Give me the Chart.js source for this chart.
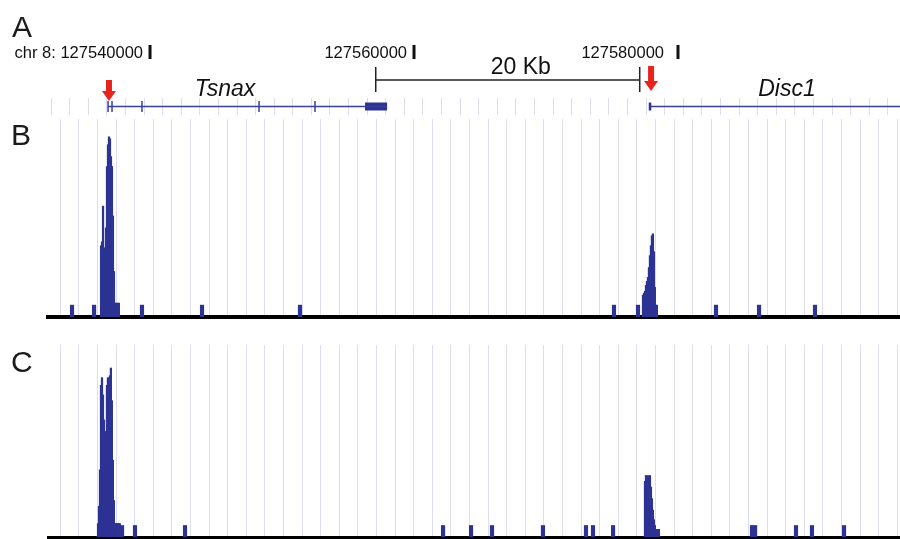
<!doctype html>
<html lang="en">
<head>
  <meta charset="utf-8" />
  <title>Tsnax / Disc1 read coverage</title>
  <script src="https://cdn.jsdelivr.net/npm/chart.js@4.4.1/dist/chart.umd.min.js"></script>
  <style>
    body { margin: 0; background: #fff; }
    .fig { position: relative; width: 900px; height: 539px; overflow: hidden; }
    .fig canvas { position: absolute; left: 0; }
    #trackA { top: 0; }
    #trackB { top: 118px; }
    #trackC { top: 340px; }
  </style>
</head>
<body>
  <div class="fig">
    <canvas id="trackA" width="900" height="118"></canvas>
    <canvas id="trackB" width="900" height="204"></canvas>
    <canvas id="trackC" width="900" height="199"></canvas>
  </div>

  <script>
    // genomic window shown in every track (bp, chr 8)
    const xMin = 127532270;
    const xMax = 127596820;

    // light guide lines of the browser
    const gridStart = 127532500;
    const gridStep = 1409;

    // ruler
    const rulerTicks = [127540000, 127560000, 127580000];
    const rulerLabels = ["chr 8: 127540000", "127560000", "127580000"];
    const scaleBar = [127557100, 127577100];
    const scaleBarLabel = "20 Kb";

    // gene models
    const geneNames = ["Tsnax", "Disc1"];
    const geneLabelPos = [127545680, 127588260];
    const tsnaxSpan = [127536820, 127557960];
    const tsnaxExons = [127536820, 127537120, 127539390, 127548260, 127552500];
    const tsnaxUtr = [127556290, 127557960];
    const disc1Span = [127577880, 127600000];
    const disc1Exons = [127577880];
    const arrowPos = [127536890, 127577960];

    // read coverage, 75 bp bins
    const binBp = 75;
    const peakStartB = [127536290, 127577350];
    const peakReadsB = [
      [36, 38, 56, 35, 30, 45, 76, 87, 91, 90, 81, 76, 51, 23, 7, 7, 7, 7, 7],
      [11, 12, 13, 16, 18, 20, 25, 31, 36, 41, 42, 33, 15, 6, 6]
    ];
    const blipPosB = [127534090, 127535760, 127539390, 127543940, 127551360,
      127575150, 127576970, 127582880, 127586140, 127590380];
    const blipReadsB = [6, 6, 6, 6, 6, 6, 6, 6, 6, 6];

    const peakStartC = [127536060, 127577500];
    const peakReadsC = [
      [7, 16, 35, 79, 83, 74, 61, 50, 55, 79, 83, 81, 84, 88, 71, 40, 19, 7, 7, 7, 7, 7, 7],
      [29, 32, 32, 25, 32, 32, 26, 20, 14, 9, 6, 4, 4, 4, 4]
    ];
    const blipPosC = [127537880, 127538860, 127542650, 127562200, 127564320,
      127565910, 127569770, 127573030, 127573560, 127575080, 127585610,
      127585840, 127588940, 127590150, 127592580];
    const blipReadsC = [6, 6, 6, 6, 6, 6, 6, 6, 6, 6, 6, 6, 6, 6, 6];

    const navy = "#2c3393";
    const geneBlue = "#3a3f9c";
    const gridColor = "#dcdcf2";
    const sans = '"Liberation Sans", Arial, sans-serif';

    Chart.defaults.font.family = sans;

    // shared x axis: hidden ticks, only the lavender guide lines
    function xAxis(borderWidth) {
      return {
        type: "linear",
        min: xMin,
        max: xMax,
        offset: false,
        afterBuildTicks: (scale) => {
          const t = [];
          for (let v = gridStart; v < xMax; v += gridStep) t.push({ value: v });
          scale.ticks = t;
        },
        ticks: { display: false },
        grid: { color: gridColor, lineWidth: 1, drawTicks: false, tickLength: 0 },
        border: { display: borderWidth > 0, color: "#000", width: borderWidth }
      };
    }

    // panel letter (B, C)
    const panelLetter = {
      id: "panelLetter",
      afterDraw(chart, args, opts) {
        const ctx = chart.ctx;
        ctx.save();
        ctx.font = "30px " + sans;
        ctx.fillStyle = "#1a1a1a";
        ctx.textBaseline = "alphabetic";
        ctx.fillText(opts.text, opts.x, opts.y);
        ctx.restore();
      }
    };

    // ruler, scale bar, gene names and red arrows of panel A
    const headerPlugin = {
      id: "header",
      afterDraw(chart) {
        const ctx = chart.ctx;
        const xs = chart.scales.x;
        ctx.save();

        // ruler labels with their tick bars
        const gaps = [7, 7, 14];
        ctx.font = "16.5px " + sans;
        ctx.fillStyle = "#111";
        ctx.textAlign = "right";
        rulerTicks.forEach((pos, i) => {
          const px = xs.getPixelForValue(pos);
          ctx.fillText(rulerLabels[i], px - gaps[i], 58);
          ctx.fillRect(px - 1.5, 45, 3, 14);
        });

        // 20 Kb scale bar
        const s0 = xs.getPixelForValue(scaleBar[0]);
        const s1 = xs.getPixelForValue(scaleBar[1]);
        ctx.strokeStyle = "#222";
        ctx.lineWidth = 1.5;
        ctx.beginPath();
        ctx.moveTo(s0, 80); ctx.lineTo(s1, 80);
        ctx.moveTo(s0, 67); ctx.lineTo(s0, 92);
        ctx.moveTo(s1, 67); ctx.lineTo(s1, 92);
        ctx.stroke();
        ctx.textAlign = "center";
        ctx.font = "23px " + sans;
        ctx.fillText(scaleBarLabel, (s0 + s1) / 2 + 13, 74);

        // gene names
        ctx.font = "italic 23px " + sans;
        geneNames.forEach((g, i) => {
          ctx.fillText(g, xs.getPixelForValue(geneLabelPos[i]), 96);
        });

        // red arrows at the transcription start sites
        const tops = [80, 66];
        const bottoms = [101, 91];
        ctx.fillStyle = "#e8231c";
        arrowPos.forEach((pos, i) => {
          const px = xs.getPixelForValue(pos);
          const top = tops[i], bot = bottoms[i];
          ctx.beginPath();
          ctx.moveTo(px - 3, top);
          ctx.lineTo(px + 3, top);
          ctx.lineTo(px + 3, bot - 10);
          ctx.lineTo(px + 7, bot - 10);
          ctx.lineTo(px, bot);
          ctx.lineTo(px - 7, bot - 10);
          ctx.lineTo(px - 3, bot - 10);
          ctx.closePath();
          ctx.fill();
        });

        // panel letter
        ctx.textAlign = "left";
        ctx.fillStyle = "#1a1a1a";
        ctx.font = "30px " + sans;
        ctx.fillText("A", 12, 37);
        ctx.restore();
      }
    };

    const geneRow = 0.5;
    const onRow = (xs) => xs.map((x) => ({ x: x, y: geneRow }));

    new Chart(document.getElementById("trackA"), {
      type: "scatter",
      plugins: [headerPlugin],
      data: {
        datasets: [
          { data: onRow(tsnaxSpan), showLine: true, borderColor: geneBlue, borderWidth: 1.5, pointRadius: 0 },
          { data: onRow(tsnaxUtr), showLine: true, borderColor: navy, borderWidth: 8, borderCapStyle: "butt", pointRadius: 0 },
          { data: onRow(tsnaxExons), showLine: false, pointStyle: "line", pointRotation: 90, pointRadius: 5.5,
            pointBorderColor: geneBlue, pointBorderWidth: 1.5 },
          { data: onRow(disc1Span), showLine: true, borderColor: geneBlue, borderWidth: 1.5, pointRadius: 0 },
          { data: onRow(disc1Exons), showLine: false, pointStyle: "line", pointRotation: 90, pointRadius: 4,
            pointBorderColor: navy, pointBorderWidth: 2.5 }
        ]
      },
      options: {
        responsive: false,
        devicePixelRatio: 1,
        animation: false,
        layout: { autoPadding: false, padding: { left: 48, right: 0, top: 98, bottom: 3 } },
        plugins: { legend: { display: false }, tooltip: { enabled: false } },
        scales: {
          x: xAxis(0),
          y: { display: false, min: 0, max: 1 }
        }
      }
    });

    function coverageDatasets(starts, reads, blipPos, blipReads) {
      const peaks = [];
      starts.forEach((s, i) => {
        reads[i].forEach((r, j) => peaks.push({ x: s + j * binBp, y: r }));
      });
      return [
        { data: peaks, backgroundColor: navy, barThickness: 1.6, grouped: false },
        { data: blipPos.map((x, i) => ({ x: x, y: blipReads[i] })), backgroundColor: navy, barThickness: 3.5, grouped: false }
      ];
    }

    function coverageChart(id, datasets, letter, letterY, pad, baseWidth) {
      return new Chart(document.getElementById(id), {
        type: "bar",
        plugins: [panelLetter],
        data: { datasets: datasets },
        options: {
          responsive: false,
          devicePixelRatio: 1,
          animation: false,
          layout: { autoPadding: false, padding: { left: 48, right: 0, top: pad[0], bottom: pad[1] } },
          plugins: {
            legend: { display: false },
            tooltip: { enabled: false },
            panelLetter: { text: letter, x: 11, y: letterY }
          },
          scales: {
            x: xAxis(baseWidth),
            y: { display: false, min: 0, max: 100 }
          }
        }
      });
    }

    coverageChart("trackB", coverageDatasets(peakStartB, peakReadsB, blipPosB, blipReadsB), "B", 27, [1, 5], 4);
    coverageChart("trackC", coverageDatasets(peakStartC, peakReadsC, blipPosC, blipReadsC), "C", 32, [5, 2], 3);
  </script>
</body>
</html>
